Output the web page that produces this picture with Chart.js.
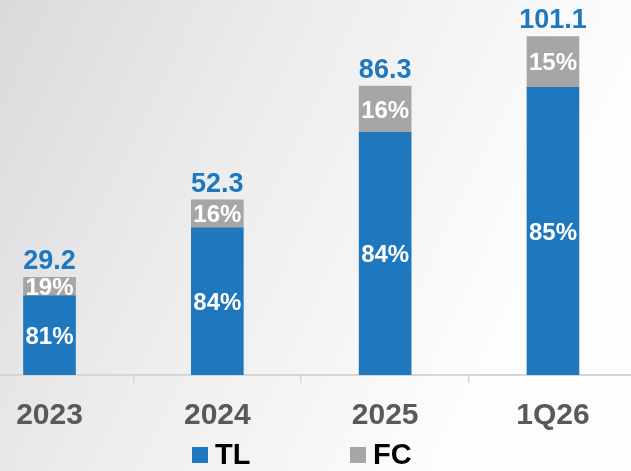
<!DOCTYPE html>
<html>
<head>
<meta charset="utf-8">
<script src="https://cdn.jsdelivr.net/npm/chart.js@4.4.1/dist/chart.umd.min.js"></script>
<style>
  html, body { margin: 0; padding: 0; background: #ffffff; }
  #wrap { position: relative; width: 631px; height: 471px; }
</style>
</head>
<body>
<div id="wrap"><canvas id="chart" width="631" height="471"></canvas></div>
<script>
// Period labels along the x axis
const categories = ['2023', '2024', '2025', '1Q26'];
// Period totals shown above each bar
const totals = [29.2, 52.3, 86.3, 101.1];
// Share of each total, in percent
const tlShare = [81, 84, 84, 85];
const fcShare = [19, 16, 16, 15];

const BLUE = '#1f77be';
const GRAY = '#a6a6a6';
const FONT = "'Liberation Sans', Arial, Helvetica, sans-serif";

const tlValues = totals.map((t, i) => t * tlShare[i] / 100);
const fcValues = totals.map((t, i) => t * fcShare[i] / 100);

// Soft grey-to-white backdrop behind the whole chart
const backdrop = {
  id: 'backdrop',
  beforeDraw(chart) {
    const { ctx, width, height } = chart;
    const g = ctx.createLinearGradient(0, 0, width * 0.85, height * 0.55);
    g.addColorStop(0, '#d9dadc');
    g.addColorStop(0.45, '#ececed');
    g.addColorStop(1, '#fdfdfd');
    ctx.save();
    ctx.fillStyle = g;
    ctx.fillRect(0, 0, width, height);
    ctx.restore();
  }
};

// Percent labels inside segments and totals above each stack
const barLabels = {
  id: 'barLabels',
  afterDatasetsDraw(chart) {
    const { ctx } = chart;
    ctx.save();
    ctx.textAlign = 'center';
    ctx.textBaseline = 'alphabetic';
    const shares = [tlShare, fcShare];
    chart.data.datasets.forEach((ds, di) => {
      const meta = chart.getDatasetMeta(di);
      meta.data.forEach((bar, i) => {
        const mid = (bar.y + bar.base) / 2;
        ctx.font = 'bold 24px ' + FONT;
        ctx.fillStyle = '#ffffff';
        ctx.fillText(shares[di][i] + '%', bar.x, mid + 24 * 0.358);
      });
    });
    const topMeta = chart.getDatasetMeta(chart.data.datasets.length - 1);
    topMeta.data.forEach((bar, i) => {
      ctx.font = 'bold 27px ' + FONT;
      ctx.fillStyle = BLUE;
      ctx.fillText(totals[i].toFixed(1), bar.x, bar.y - 8);
    });
    ctx.restore();
  }
};

// Legend row under the axis labels
const legendRow = {
  id: 'legendRow',
  afterDraw(chart) {
    const { ctx } = chart;
    const starts = [192, 350];
    const box = 16, boxTop = 447, textBase = 464;
    ctx.save();
    ctx.font = 'bold 29px ' + FONT;
    ctx.textAlign = 'left';
    ctx.textBaseline = 'alphabetic';
    chart.data.datasets.forEach((ds, i) => {
      const x = starts[i];
      ctx.fillStyle = ds.backgroundColor;
      ctx.fillRect(x, boxTop, box, box);
      ctx.fillStyle = '#000000';
      ctx.fillText(ds.label, x + box + 7, textBase);
    });
    ctx.restore();
  }
};

new Chart(document.getElementById('chart'), {
  type: 'bar',
  data: {
    datasets: [
      {
        label: 'TL',
        data: tlValues.map((v, i) => ({ x: i, y: v })),
        backgroundColor: BLUE,
        barThickness: 52
      },
      {
        label: 'FC',
        data: fcValues.map((v, i) => ({ x: i, y: v })),
        backgroundColor: GRAY,
        barThickness: 52
      }
    ]
  },
  options: {
    responsive: false,
    animation: false,
    layout: { padding: { left: 0, right: 0, top: 0, bottom: 0 } },
    plugins: {
      legend: { display: false },
      tooltip: { enabled: false }
    },
    scales: {
      x: {
        type: 'linear',
        stacked: true,
        offset: false,
        min: -0.295,
        max: 3.465,
        afterBuildTicks(scale) {
          scale.ticks = categories.map((_, i) => ({ value: i }));
        },
        afterFit(scale) { scale.height = 96; },
        ticks: {
          autoSkip: false,
          maxRotation: 0,
          includeBounds: false,
          padding: 15,
          color: '#595959',
          font: { family: FONT, size: 30, weight: 'bold' },
          callback: (value) => categories[value]
        },
        grid: {
          display: true,
          offset: true,
          drawOnChartArea: false,
          drawTicks: true,
          tickLength: 8,
          color: '#d6d6d6',
          lineWidth: 1.5
        },
        border: { display: true, color: '#d6d6d6', width: 2 }
      },
      y: {
        display: false,
        stacked: true,
        min: 0,
        max: 112
      }
    }
  },
  plugins: [backdrop, barLabels, legendRow]
});
</script>
</body>
</html>
